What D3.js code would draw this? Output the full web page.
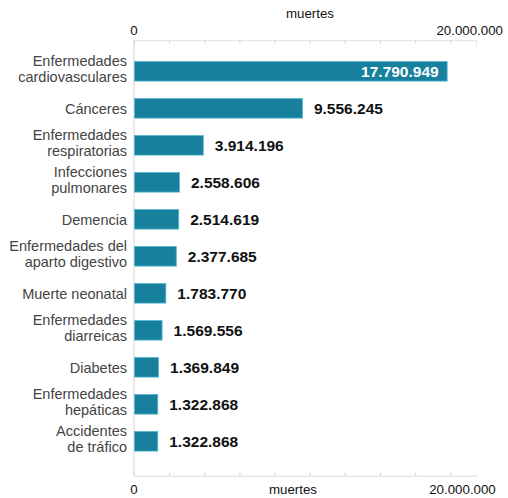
<!DOCTYPE html>
<html><head><meta charset="utf-8">
<script src="https://cdn.jsdelivr.net/npm/d3@7"></script>
<style>
body{margin:0;background:#fff;}
text{font-family:"Liberation Sans",Arial,Helvetica,sans-serif;}
</style></head>
<body>
<svg id="c" width="508" height="498"></svg>
<script>
const categories = [
  ["Enfermedades","cardiovasculares"],
  ["Cánceres"],
  ["Enfermedades","respiratorias"],
  ["Infecciones","pulmonares"],
  ["Demencia"],
  ["Enfermedades del","aparto digestivo"],
  ["Muerte neonatal"],
  ["Enfermedades","diarreicas"],
  ["Diabetes"],
  ["Enfermedades","hepáticas"],
  ["Accidentes","de tráfico"]
];
const values = [17790949, 9556245, 3914196, 2558606, 2514619, 2377685, 1783770, 1569556, 1369849, 1322868, 1322868];
const tickLabels = ["0", "20.000.000"];
const axisTitle = "muertes";

const svg = d3.select("#c");
const x0 = 134, x1 = 476.7, yTop = 40.7, yBot = 475.7;
const x = d3.scaleLinear().domain([0, 19.5e6]).range([x0, x1]);
const idx = d3.range(categories.length);
const y = d3.scaleBand().domain(idx).range([52.8, 52.8 + 11 * 37]).paddingInner(0.47).paddingOuter(0.235);
const fmt = v => d3.format(",")(v).replace(/,/g, ".");
const tickVals = d3.range(0, 19e6, 2e6);

// top axis
const topAxis = svg.append("g").attr("transform", `translate(0,${yTop})`)
  .call(d3.axisBottom(x).tickValues(tickVals).tickSize(3).tickSizeOuter(6).tickFormat(""));
topAxis.select(".domain").attr("stroke", "#e3e3e3").attr("d", `M${x0},6V0H${x1}V6`);
topAxis.selectAll(".tick line").attr("stroke", "#cfcfcf");
// bottom axis
const botAxis = svg.append("g").attr("transform", `translate(0,${yBot})`)
  .call(d3.axisTop(x).tickValues(tickVals).tickSize(3).tickSizeOuter(0).tickFormat(""));
botAxis.select(".domain").attr("stroke", "#dcdcdc");
botAxis.selectAll(".tick line").attr("stroke", "#cfcfcf");
// vertical axis line
svg.append("line").attr("x1", x0).attr("x2", x0).attr("y1", yTop).attr("y2", yBot)
  .attr("stroke", "#dcdcdc").attr("stroke-width", 1.2);

// axis labels
const lab = (t, xx, yy, anchor) => svg.append("text").attr("x", xx).attr("y", yy)
  .attr("text-anchor", anchor).attr("font-size", 13.3).attr("fill", "#111").text(t);
lab(axisTitle, 310, 18, "middle");
lab(tickLabels[0], x(0), 35, "middle");
lab(tickLabels[1], 503, 35, "end");
lab(axisTitle, 293, 494, "middle");
lab(tickLabels[0], x(0), 494, "middle");
lab(tickLabels[1], 462.5, 494, "middle");

// bars
svg.append("g").selectAll("rect").data(values).join("rect")
  .attr("x", x(0) + 0.5).attr("y", (d, i) => y(i))
  .attr("width", d => x(d) - x(0)).attr("height", y.bandwidth())
  .attr("fill", "#17819d").attr("stroke", "#55b6d0").attr("stroke-width", 0.8);

// value labels
svg.append("g").selectAll("text").data(values).join("text")
  .attr("x", (d, i) => i === 0 ? x(d) - 8 : x(d) + 12)
  .attr("y", (d, i) => y(i) + y.bandwidth() / 2 + 5.5)
  .attr("text-anchor", (d, i) => i === 0 ? "end" : "start")
  .attr("font-size", 15.5).attr("font-weight", "bold")
  .attr("fill", (d, i) => i === 0 ? "#fff" : "#111")
  .text(d => fmt(d));

// category labels
const cg = svg.append("g");
categories.forEach((lines, i) => {
  const cy = y(i) + y.bandwidth() / 2;
  const t = cg.append("text").attr("text-anchor", "end").attr("font-size", 14.5).attr("fill", "#444");
  const lh = 16.2;
  const start = lines.length === 1 ? cy + 5.5 : cy + 3 - lh / 2;
  lines.forEach((l, k) => t.append("tspan").attr("x", 127).attr("y", start + k * lh).text(l));
});
</script>
</body></html>
